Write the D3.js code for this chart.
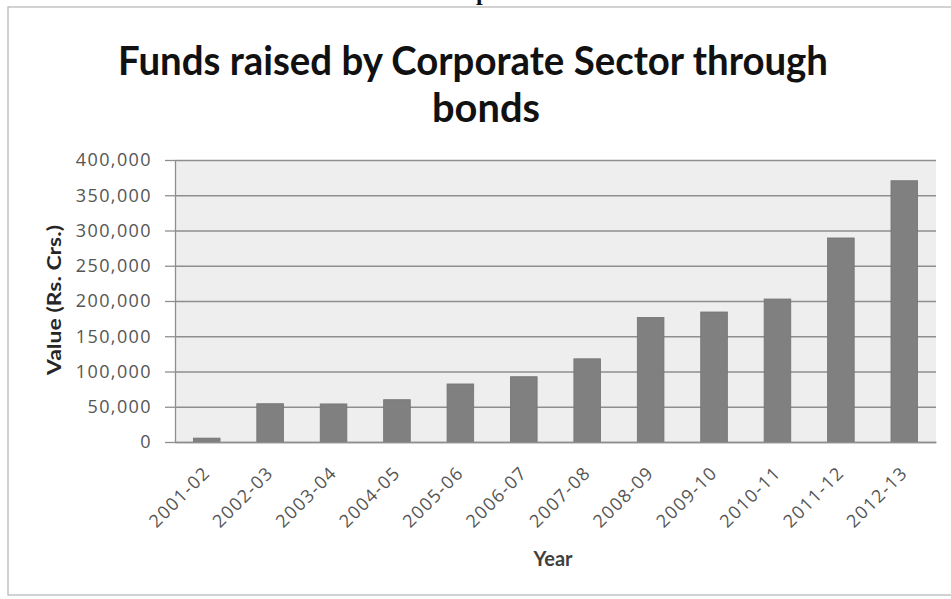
<!DOCTYPE html>
<html>
<head>
<meta charset="utf-8">
<script src="https://cdn.jsdelivr.net/npm/d3@7"></script>
<style>
  body { margin: 0; background: #fff; }
  svg { display: block; }
</style>
</head>
<body>
<svg id="chart"></svg>
<script>
// Values (Rs. Crs.)
const years = ["2001-02", "2002-03", "2003-04", "2004-05", "2005-06", "2006-07",
               "2007-08", "2008-09", "2009-10", "2010-11", "2011-12", "2012-13"];
const values = [5500, 54300, 54000, 60000, 82300, 92600,
                118000, 176700, 184400, 202800, 289400, 370600];
const yTicks = [0, 50000, 100000, 150000, 200000, 250000, 300000, 350000, 400000];
const titleLines = ["Funds raised by Corporate Sector through", "bonds"];

const width = 951, height = 599;
const margin = {top: 160, right: 15, bottom: 157, left: 175};
const plotW = width - margin.left - margin.right;
const plotH = height - margin.top - margin.bottom;

const svg = d3.select("#chart")
    .attr("width", width)
    .attr("height", height);

// chart frame (runs off the right side of the picture)
svg.append("rect")
    .attr("x", 8).attr("y", 7)
    .attr("width", 960).attr("height", 588)
    .attr("fill", "#fff")
    .attr("stroke", "#b4b4b4")
    .attr("stroke-width", 1.2);

// bit of the page text above the chart, cut off in the original too
svg.append("text")
    .attr("x", 476).attr("y", 0)
    .style("font-family", "'Liberation Serif', serif")
    .style("font-size", "24px")
    .style("font-weight", "bold")
    .style("fill", "#111")
    .text("p");

// title
const titleX = [473, 486];
const titleY = [75, 122];
svg.selectAll(".title")
    .data(titleLines)
    .enter().append("text")
    .attr("class", "title")
    .attr("x", (d, i) => titleX[i])
    .attr("y", (d, i) => titleY[i])
    .attr("text-anchor", "middle")
    .style("font-family", "Lato, sans-serif")
    .style("font-size", "40px")
    .style("font-weight", "bold")
    .style("fill", "#111")
    .attr("textLength", (d, i) => i === 0 ? 710 : 108)
    .attr("lengthAdjust", "spacingAndGlyphs")
    .text(d => d);

const g = svg.append("g")
    .attr("transform", "translate(" + margin.left + "," + margin.top + ")");

// scales
const x = d3.scaleBand()
    .domain(years)
    .range([0, plotW])
    .paddingInner(0.58)
    .paddingOuter(0.29);

const y = d3.scaleLinear()
    .domain([0, 400000])
    .range([plotH, 0]);

// plot background
g.append("rect")
    .attr("width", plotW)
    .attr("height", plotH)
    .attr("fill", "#eeeeee");

// gridlines
const grid = g.append("g")
    .call(d3.axisLeft(y).tickValues(yTicks).tickSize(-plotW).tickFormat(""));
grid.select(".domain").remove();
grid.selectAll("line")
    .attr("stroke", "#8e8e8e")
    .attr("stroke-width", 1.3);

// bars
g.selectAll(".bar")
    .data(values)
    .enter().append("rect")
    .attr("class", "bar")
    .attr("x", (d, i) => x(years[i]))
    .attr("y", d => y(d))
    .attr("width", x.bandwidth())
    .attr("height", d => plotH - y(d))
    .attr("fill", "#808080")
    .attr("stroke", "#737373")
    .attr("stroke-width", 0.8);

// y axis
const yAxis = g.append("g")
    .call(d3.axisLeft(y)
        .tickValues(yTicks)
        .tickSize(10)
        .tickSizeOuter(0)
        .tickPadding(13)
        .tickFormat(d3.format(",")));
yAxis.select(".domain").attr("stroke", "#8e8e8e").attr("stroke-width", 1.3);
yAxis.selectAll("line").attr("stroke", "#8e8e8e").attr("stroke-width", 1.3);
yAxis.selectAll("text")
    .style("font-family", "'Open Sans', sans-serif")
    .style("font-size", "18px")
    .style("letter-spacing", "1.4px")
    .style("fill", "#555");

// x axis
const xAxis = g.append("g")
    .attr("transform", "translate(0," + plotH + ")")
    .call(d3.axisBottom(x).tickSize(0).tickSizeOuter(0));
xAxis.select(".domain").attr("stroke", "#8e8e8e").attr("stroke-width", 1.3);
xAxis.selectAll("text")
    .attr("y", 0)
    .attr("dy", 0)
    .attr("text-anchor", "end")
    .attr("transform", "translate(4.5,32) rotate(-45)")
    .style("font-family", "'Open Sans', sans-serif")
    .style("font-size", "18px")
    .style("letter-spacing", "1.4px")
    .style("fill", "#555");

// axis titles
svg.append("text")
    .attr("transform", "translate(61,300) rotate(-90)")
    .attr("text-anchor", "middle")
    .attr("textLength", 150)
    .attr("lengthAdjust", "spacingAndGlyphs")
    .style("font-family", "Lato, sans-serif")
    .style("font-size", "19px")
    .style("font-weight", "bold")
    .style("fill", "#262626")
    .text("Value (Rs. Crs.)");

svg.append("text")
    .attr("x", 553).attr("y", 566)
    .attr("text-anchor", "middle")
    .style("font-family", "Lato, sans-serif")
    .style("font-size", "20px")
    .style("font-weight", "bold")
    .style("fill", "#404040")
    .text("Year");
</script>
</body>
</html>
